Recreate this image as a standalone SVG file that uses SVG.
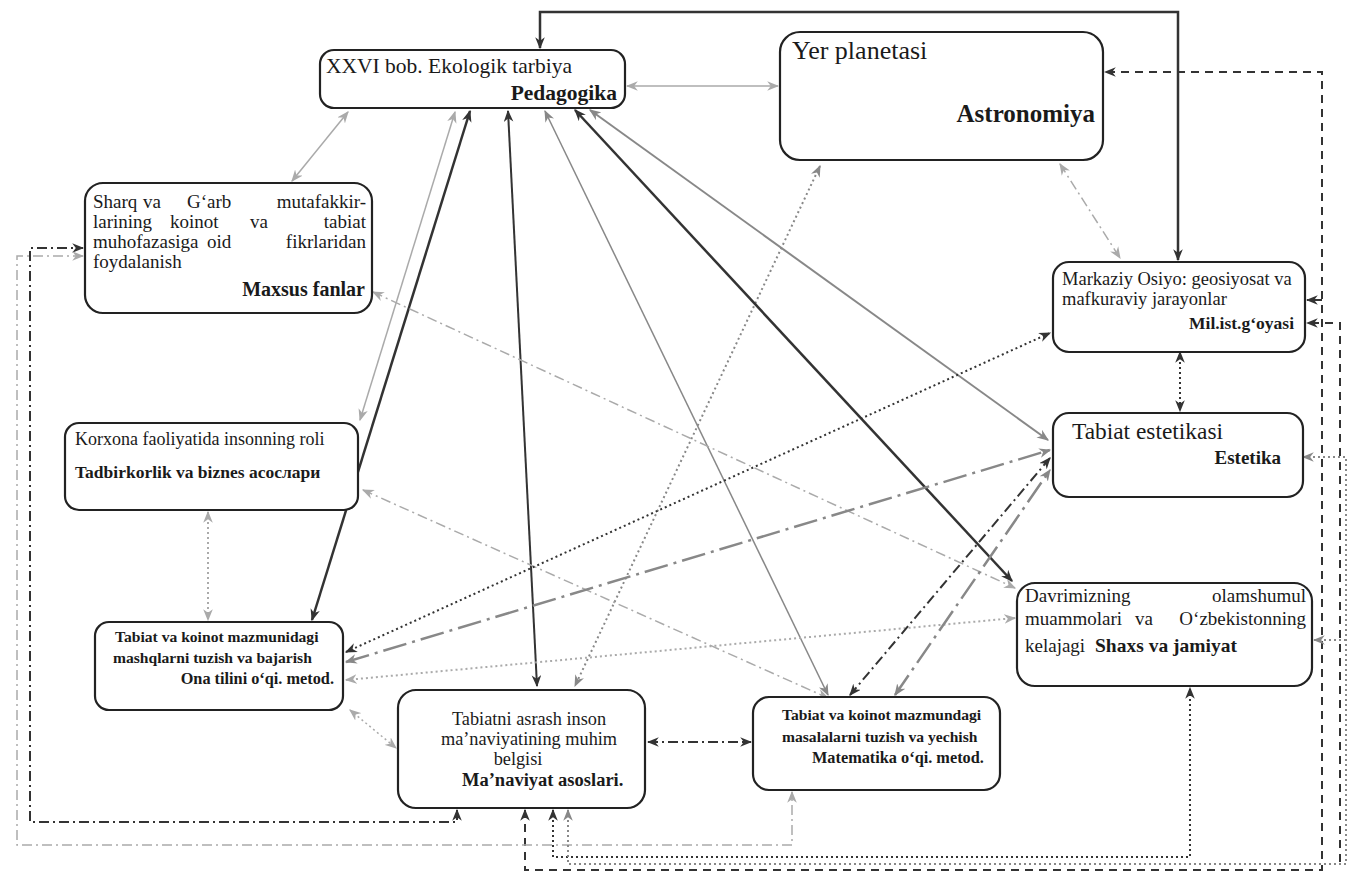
<svg xmlns="http://www.w3.org/2000/svg" width="1350" height="875" viewBox="0 0 1350 875">
<style>
.box{fill:#fff;stroke:#222;stroke-width:2.2}
.t{fill:#1a1a1a}
.b{font-weight:bold}
.c{fill:none}
.dk{stroke:#333}
.gr{stroke:#888}
.lt{stroke:#aaa}
.dot{stroke-dasharray:2 3}
.dd{stroke-dasharray:10 4 2 4}
.ldd{stroke-dasharray:24 6 3 6}
.dash{stroke-dasharray:8 6}
</style>
<defs>
<marker id="ad" viewBox="0 0 10 8" refX="9" refY="4" markerWidth="12" markerHeight="10" markerUnits="userSpaceOnUse" orient="auto-start-reverse"><path d="M0,0 L10,4 L0,8 L3,4 z" fill="#333"/></marker>
<marker id="ag" viewBox="0 0 10 8" refX="9" refY="4" markerWidth="12" markerHeight="10" markerUnits="userSpaceOnUse" orient="auto-start-reverse"><path d="M0,0 L10,4 L0,8 L3,4 z" fill="#888"/></marker>
<marker id="al" viewBox="0 0 10 8" refX="9" refY="4" markerWidth="12" markerHeight="10" markerUnits="userSpaceOnUse" orient="auto-start-reverse"><path d="M0,0 L10,4 L0,8 L3,4 z" fill="#aaa"/></marker>
</defs>
<rect width="1350" height="875" fill="#fff"/>
<g id="connectors">
<path class="c dk" stroke-width="2.5" d="M1178,260 V12 H540 V48" marker-start="url(#ad)" marker-end="url(#ad)"/>
<path class="c lt" stroke-width="1.5" d="M627,86 H778" marker-start="url(#al)" marker-end="url(#al)"/>
<path class="c lt" stroke-width="1.5" d="M348,112 L292,181" marker-start="url(#al)" marker-end="url(#al)"/>
<path class="c lt dd" stroke-width="1.5" d="M1060,164 L1120,258" marker-start="url(#al)" marker-end="url(#al)"/>
<path class="c gr dot" stroke-width="2" d="M820,166 L575,686" marker-start="url(#ag)" marker-end="url(#ag)"/>
<path class="c lt" stroke-width="1.5" d="M455,112 L360,420" marker-start="url(#al)" marker-end="url(#al)"/>
<path class="c dk" stroke-width="2.5" d="M470,111 L312,620" marker-start="url(#ad)" marker-end="url(#ad)"/>
<path class="c dk" stroke-width="2" d="M508,111 L537,686" marker-start="url(#ad)" marker-end="url(#ad)"/>
<path class="c gr" stroke-width="1.5" d="M545,111 L828,695" marker-start="url(#ag)" marker-end="url(#ag)"/>
<path class="c dk" stroke-width="2.5" d="M575,110 L1012,581" marker-start="url(#ad)" marker-end="url(#ad)"/>
<path class="c gr" stroke-width="2" d="M590,110 L1048,440" marker-start="url(#ag)" marker-end="url(#ag)"/>
<path class="c lt dd" stroke-width="1.5" d="M373,292 L1015,588" marker-start="url(#al)" marker-end="url(#al)"/>
<path class="c lt dd" stroke-width="1.5" d="M363,490 L828,698" marker-start="url(#al)" marker-end="url(#al)"/>
<path class="c lt dot" stroke-width="2" d="M208,512 V620" marker-start="url(#al)" marker-end="url(#al)"/>
<path class="c dk dot" stroke-width="2" d="M346,652 L1050,333" marker-start="url(#ad)" marker-end="url(#ad)"/>
<path class="c gr ldd" stroke-width="2.5" d="M346,662 L1050,450" marker-start="url(#ag)" marker-end="url(#ag)"/>
<path class="c lt dot" stroke-width="2" d="M346,680 L1015,618" marker-start="url(#al)" marker-end="url(#al)"/>
<path class="c lt dot" stroke-width="1.5" d="M350,710 L396,748" marker-start="url(#al)" marker-end="url(#al)"/>
<path class="c dk dd" stroke-width="2" d="M648,742 H751" marker-start="url(#ad)" marker-end="url(#ad)"/>
<path class="c dk dd" stroke-width="2" d="M850,695 L1050,458" marker-start="url(#ad)" marker-end="url(#ad)"/>
<path class="c gr ldd" stroke-width="2.5" d="M895,695 L1050,470" marker-start="url(#ag)" marker-end="url(#ag)"/>
<path class="c dk dot" stroke-width="2" d="M1180,352 V411" marker-start="url(#ad)" marker-end="url(#ad)"/>
<path class="c dk dash" stroke-width="2" d="M525,810 V870 H1322 V72 H1105" marker-start="url(#ad)" marker-end="url(#ad)"/>
<path class="c dk dash" stroke-width="2" d="M1322,300 H1307" marker-end="url(#ad)"/>
<path class="c dk dash" stroke-width="2" d="M1340,862 V323 H1307" marker-end="url(#ad)"/>
<path class="c dk dd" stroke-width="2" d="M457,810 V822 H30 V248 H83" marker-start="url(#ad)" marker-end="url(#ad)"/>
<path class="c lt dd" stroke-width="1.5" d="M83,256 H17 V845 H792 V792" marker-start="url(#al)" marker-end="url(#al)"/>
<path class="c dk dot" stroke-width="2" d="M553,810 V857 H1190 V688" marker-start="url(#ad)" marker-end="url(#ad)"/>
<path class="c gr dot" stroke-width="2" d="M568,810 V864 H1346 V457 H1303" marker-start="url(#ag)" marker-end="url(#ag)"/>
<path class="c gr dot" stroke-width="2" d="M1346,640 H1314" marker-end="url(#ag)"/>
</g>
<g font-family="'Liberation Serif','Times New Roman','DejaVu Serif',serif">
<g id="n-pedagogika"><rect class="box" x="320" y="50" width="305" height="58" rx="14"/>
<text class="t" x="326" y="73" font-size="21.5">XXVI bob. Ekologik tarbiya</text>
<text class="t b" x="617" y="100" font-size="21.5" text-anchor="end">Pedagogika</text></g>
<g id="n-astronomiya"><rect class="box" x="780" y="32" width="323" height="128" rx="20"/>
<text class="t" x="792" y="59" font-size="26">Yer planetasi</text>
<text class="t b" x="1095" y="122" font-size="25" text-anchor="end">Astronomiya</text></g>
<g id="n-maxsus"><rect class="box" x="85" y="183" width="287" height="130" rx="18"/>
<g class="t" font-size="19">
<text x="93" y="208">Sharq</text><text x="143" y="208">va</text><text x="187" y="208">G‘arb</text><text x="366" y="208" text-anchor="end">mutafakkir-</text>
<text x="93" y="228">larining</text><text x="170" y="228">koinot</text><text x="250" y="228">va</text><text x="366" y="228" text-anchor="end">tabiat</text>
<text x="93" y="248">muhofazasiga</text><text x="207" y="248">oid</text><text x="366" y="248" text-anchor="end">fikrlaridan</text>
<text x="93" y="268">foydalanish</text>
<text class="b" x="365" y="296" font-size="20" text-anchor="end">Maxsus fanlar</text></g></g>
<g id="n-tadbirkorlik"><rect class="box" x="65" y="423" width="293" height="87" rx="14"/>
<text class="t" x="75" y="445" font-size="18">Korxona faoliyatida insonning roli</text>
<text class="t b" x="75" y="478" font-size="17.5">Tadbirkorlik va biznes асослари</text></g>
<g id="n-onatili"><rect class="box" x="95" y="622" width="248" height="88" rx="14"/>
<text class="t b" x="115" y="642" font-size="15.6">Tabiat va koinot mazmunidagi</text>
<text class="t b" x="113" y="663" font-size="15.6">mashqlarni tuzish va bajarish</text>
<text class="t b" x="334" y="684" font-size="16.3" text-anchor="end">Ona tilini o‘qi. metod.</text></g>
<g id="n-manaviyat"><rect class="box" x="398" y="690" width="247" height="118" rx="18"/>
<text class="t" x="529" y="725" font-size="18.3" text-anchor="middle">Tabiatni asrash inson</text>
<text class="t" x="529" y="745" font-size="18.3" text-anchor="middle">ma’naviyatining muhim</text>
<text class="t" x="518" y="765" font-size="18.3" text-anchor="middle">belgisi</text>
<text class="t b" x="462" y="786" font-size="18.5">Ma’naviyat asoslari.</text></g>
<g id="n-matematika"><rect class="box" x="753" y="697" width="247" height="93" rx="16"/>
<text class="t b" x="782" y="720" font-size="15.6">Tabiat va koinot mazmundagi</text>
<text class="t b" x="782" y="742" font-size="15.6">masalalarni tuzish va yechish</text>
<text class="t b" x="812" y="763" font-size="16.3">Matematika o‘qi. metod.</text></g>
<g id="n-shaxs"><rect class="box" x="1017" y="583" width="295" height="103" rx="18"/>
<g class="t" font-size="19">
<text x="1025" y="602">Davrimizning</text><text x="1306" y="602" text-anchor="end">olamshumul</text>
<text x="1025" y="625">muammolari</text><text x="1135" y="625">va</text><text x="1306" y="625" text-anchor="end">O‘zbekistonning</text>
<text x="1025" y="652">kelajagi</text><text class="b" x="1095" y="652" font-size="19.5">Shaxs va jamiyat</text></g></g>
<g id="n-milist"><rect class="box" x="1053" y="262" width="252" height="90" rx="16"/>
<text class="t" x="1062" y="285" font-size="18.5">Markaziy Osiyo: geosiyosat va</text>
<text class="t" x="1062" y="305" font-size="18.5">mafkuraviy jarayonlar</text>
<text class="t b" x="1294" y="329" font-size="17.5" text-anchor="end">Mil.ist.g‘oyasi</text></g>
<g id="n-estetika"><rect class="box" x="1053" y="413" width="250" height="84" rx="16"/>
<text class="t" x="1072" y="439" font-size="23.4">Tabiat estetikasi</text>
<text class="t b" x="1281" y="464" font-size="19" text-anchor="end">Estetika</text></g>
</g>
</svg>
